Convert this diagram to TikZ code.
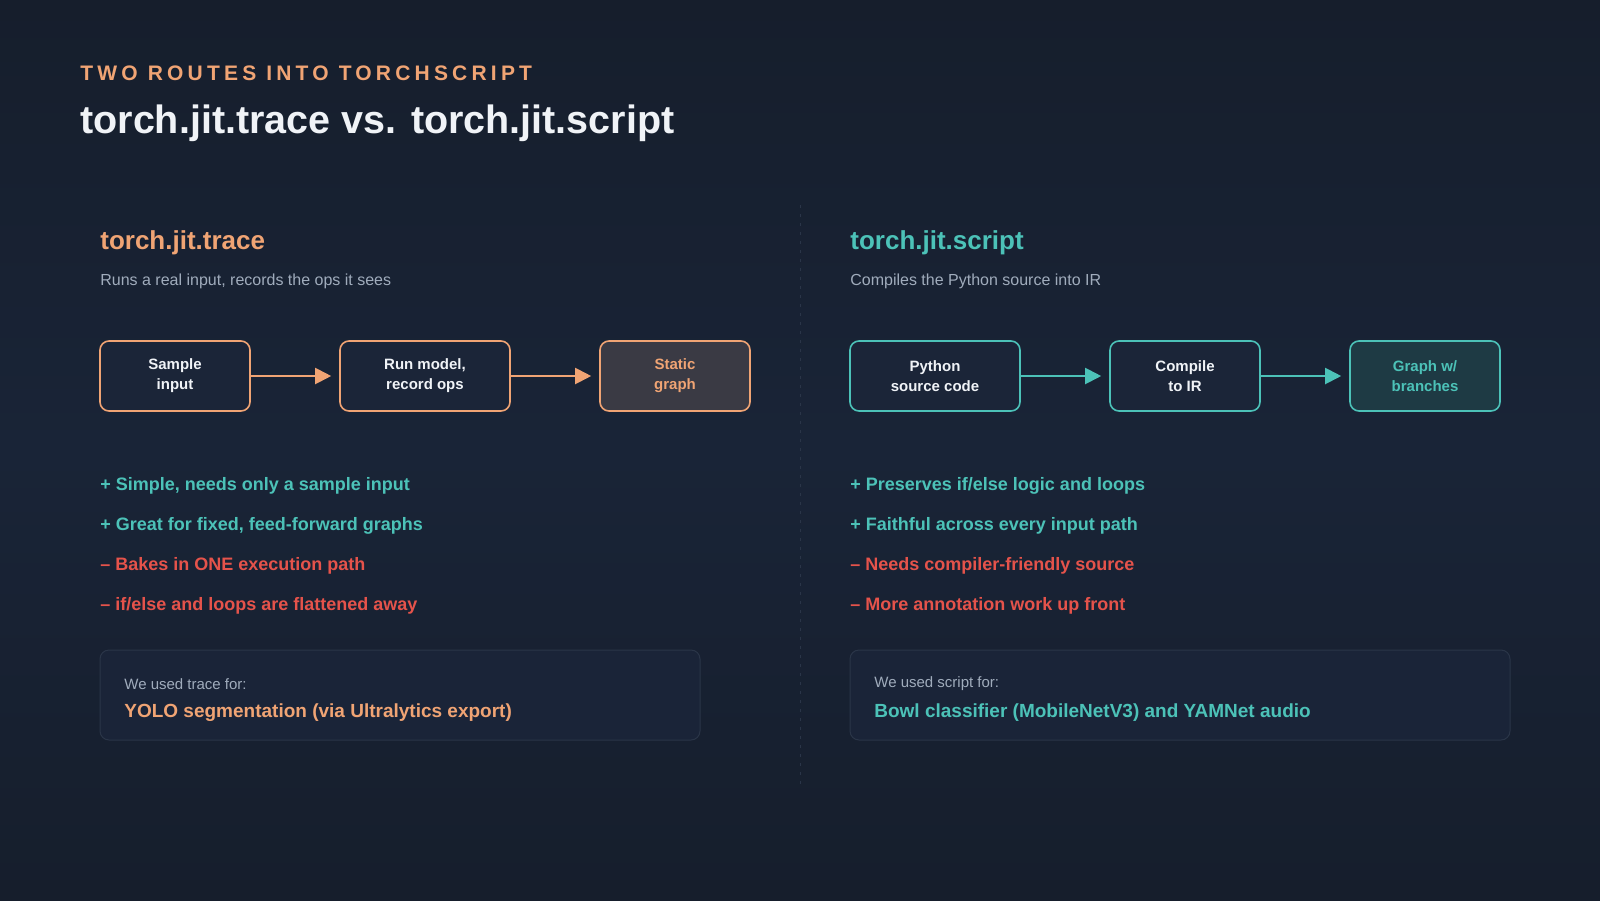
\documentclass[tikz,border=0pt]{standalone}
\usepackage{fontspec}
\setmainfont{Liberation Sans}
\usetikzlibrary{arrows.meta,positioning}
\definecolor{bgtop}{RGB}{22,30,44}
\definecolor{bgmid}{RGB}{25,36,55}
\definecolor{trc}{RGB}{240,164,116}
\definecolor{scr}{RGB}{76,194,184}
\definecolor{con}{RGB}{229,83,75}
\definecolor{boxfill}{RGB}{27,37,56}
\definecolor{statfill}{RGB}{58,58,68}
\definecolor{brfill}{RGB}{30,58,68}
\definecolor{cardfill}{RGB}{26,36,56}
\definecolor{cardline}{RGB}{42,53,72}
\definecolor{muted}{RGB}{160,172,188}
\definecolor{head}{RGB}{240,243,247}
\tikzset{every picture/.style={line width=0.75pt}}
\tikzset{
  step/.style={draw=#1, line width=1.6pt, rounded corners=9pt, fill=boxfill, minimum width=150pt, minimum height=70pt, align=center, text=head, font=\fontsize{15}{20}\selectfont\bfseries},
  flow/.style={draw=#1, line width=2pt, shorten >=8pt, -{Triangle[length=16pt,width=16pt]}},
  pro/.style={anchor=west, inner sep=0pt, text=scr, font=\fontsize{18}{22}\selectfont\bfseries},
  contra/.style={anchor=west, inner sep=0pt, text=con, font=\fontsize{18}{22}\selectfont\bfseries},
  card/.style={draw=cardline, fill=cardfill, rounded corners=9pt, line width=1pt},
  note/.style={anchor=west, inner sep=0pt, text=muted, font=\fontsize{15}{18}\selectfont}
}
\begin{document}
\begin{tikzpicture}[x=1pt,y=1pt,yscale=-1,xscale=1]
\useasboundingbox (0,0) rectangle (1600,900);
\shade[top color=bgtop, bottom color=bgtop, middle color=bgmid] (0,0) rectangle (1600,900);

% header
\node[anchor=west, inner sep=0pt, text=trc, font=\fontsize{21}{24}\selectfont\bfseries\addfontfeatures{LetterSpace=20}] (kicker) at (80,73) {TWO ROUTES INTO TORCHSCRIPT};
\node[anchor=west, inner sep=0pt, text=head, font=\fontsize{39.5}{46}\selectfont\bfseries] (title) at (80,123) {torch.jit.trace vs. torch.jit.script};

% divider
\draw[cardline, dashed, dash pattern=on 3pt off 6pt, line width=1pt] (800,205) -- (800,785);

% trace column
\node[anchor=west, inner sep=0pt, text=trc, font=\fontsize{26}{30}\selectfont\bfseries] (trhead) at (100,243) {torch.jit.trace};
\node[anchor=west, inner sep=0pt, text=muted, font=\fontsize{16}{19}\selectfont] (trsub) at (100,281) {Runs a real input, records the ops it sees};
\node[step=trc] (sample) at (175,376) {Sample\\input};
\node[step=trc, minimum width=170pt] (run) at (425,376) {Run model,\\record ops};
\node[step=trc, fill=statfill, text=trc] (static) at (675,376) {Static\\graph};
\draw[flow=trc] (sample) -- (run);
\draw[flow=trc] (run) -- (static);
\node[pro] (trp1) at (100,486) {+ Simple, needs only a sample input};
\node[pro] (trp2) at (100,526) {+ Great for fixed, feed-forward graphs};
\node[contra] (trc1) at (100,566) {– Bakes in ONE execution path};
\node[contra] (trc2) at (100,606) {– if/else and loops are flattened away};
\draw[card] (100,650) rectangle (700,740);
\node[note] (trnote) at (124,684) {We used trace for:};
\node[anchor=west, inner sep=0pt, text=trc, font=\fontsize{19}{22}\selectfont\bfseries] (truse) at (124,713) {YOLO segmentation (via Ultralytics export)};

% script column
\node[anchor=west, inner sep=0pt, text=scr, font=\fontsize{26}{30}\selectfont\bfseries] (schead) at (850,243) {torch.jit.script};
\node[anchor=west, inner sep=0pt, text=muted, font=\fontsize{16}{19}\selectfont] (scsub) at (850,281) {Compiles the Python source into IR};
\node[step=scr, minimum width=170pt] (source) at (935,376) {Python\\source code};
\node[step=scr] (compile) at (1185,376) {Compile\\to IR};
\node[step=scr, fill=brfill, text=scr] (branch) at (1425,376) {Graph w/\\branches};
\draw[flow=scr] (source) -- (compile);
\draw[flow=scr] (compile) -- (branch);
\node[pro] (scp1) at (850,486) {+ Preserves if/else logic and loops};
\node[pro] (scp2) at (850,526) {+ Faithful across every input path};
\node[contra] (scc1) at (850,566) {– Needs compiler-friendly source};
\node[contra] (scc2) at (850,606) {– More annotation work up front};
\draw[card] (850,650) rectangle (1510,740);
\node[note] (scnote) at (874,684) {We used script for:};
\node[anchor=west, inner sep=0pt, text=scr, font=\fontsize{19}{22}\selectfont\bfseries] (scuse) at (874,713) {Bowl classifier (MobileNetV3) and YAMNet audio};
\end{tikzpicture}
\end{document}
